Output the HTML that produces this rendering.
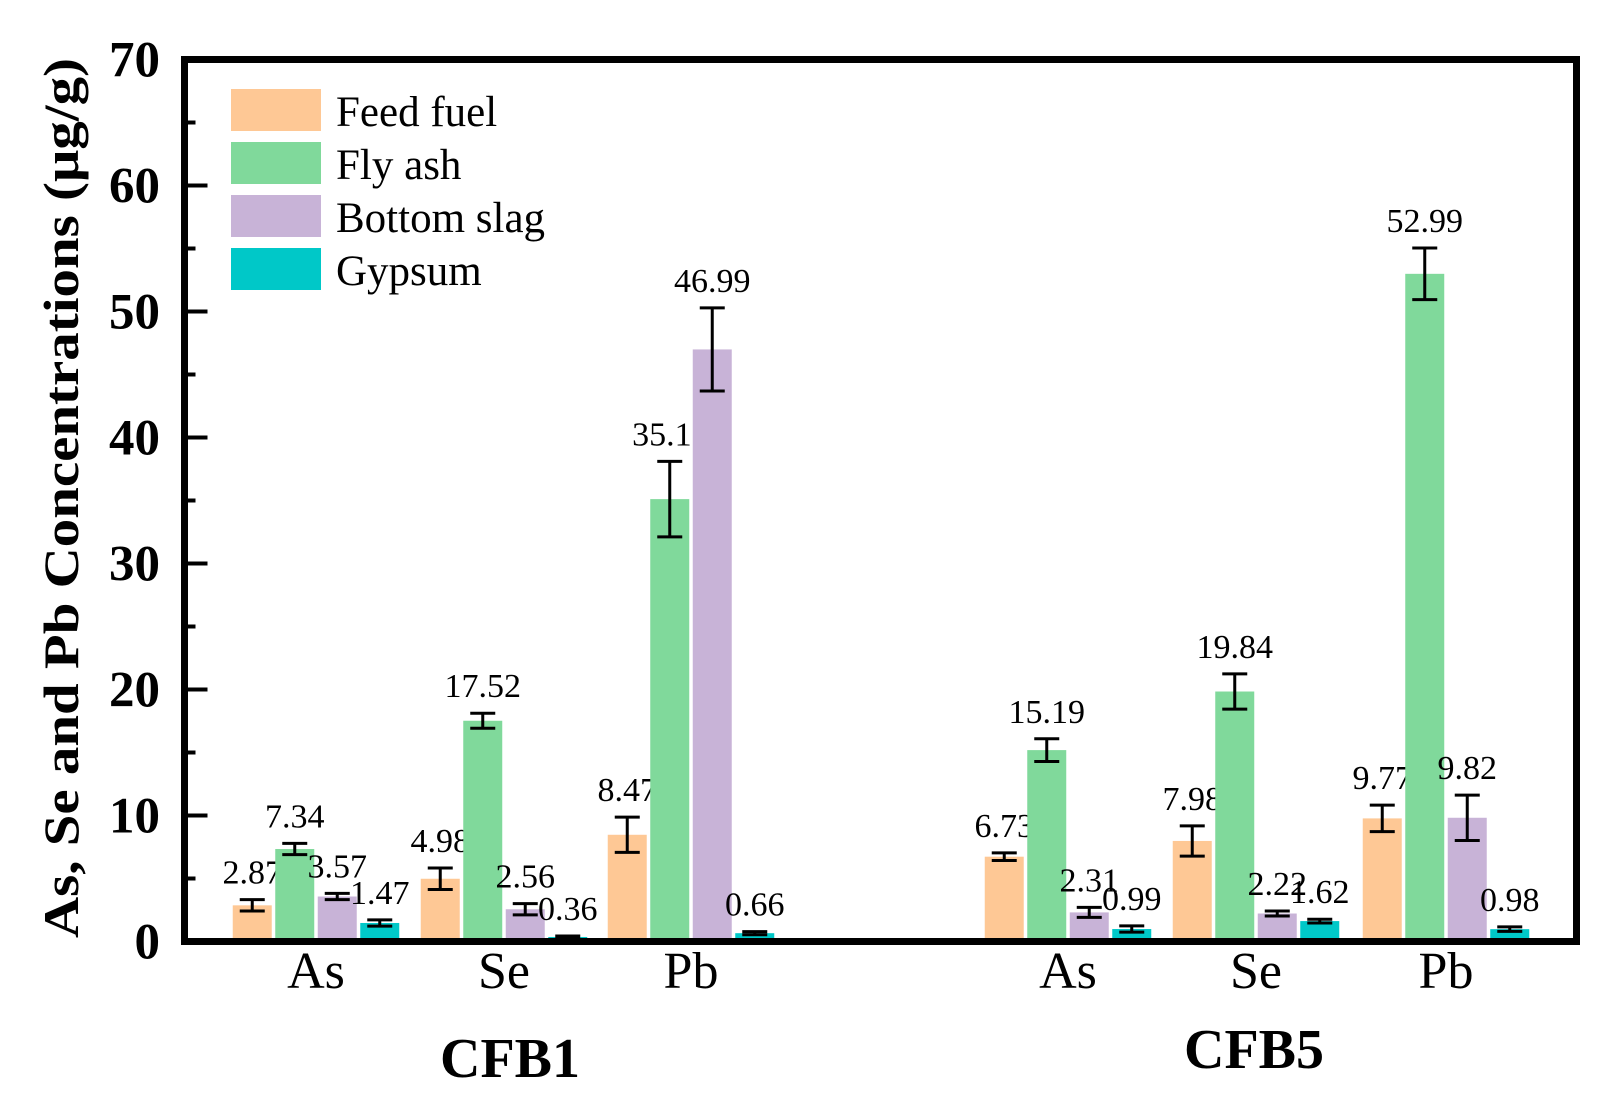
<!DOCTYPE html>
<html><head><meta charset="utf-8">
<style>
html,body{margin:0;padding:0;background:#fff;}
svg{display:block;font-family:"Liberation Serif","DejaVu Serif",serif;}
</style></head>
<body>
<svg id="chart" width="1624" height="1113" viewBox="0 0 1624 1113" xmlns="http://www.w3.org/2000/svg">
<g id="plot"></g>
</svg>
<script>
const groups = ["CFB1","CFB5"];
const elements = ["As","Se","Pb"];
const seriesNames = ["Feed fuel","Fly ash","Bottom slag","Gypsum"];
const colors = ["#fec895","#80d99b","#c8b3d7","#00c8c8"];
const feedFuel = [2.87,4.98,8.47,6.73,7.98,9.77];
const flyAsh = [7.34,17.52,35.11,15.19,19.84,52.99];
const bottomSlag = [3.57,2.56,46.99,2.31,2.22,9.82];
const gypsum = [1.47,0.36,0.66,0.99,1.62,0.98];
const feedErr = [0.45,0.85,1.4,0.3,1.2,1.05];
const flyErr = [0.45,0.6,3.0,0.9,1.4,2.05];
const slagErr = [0.25,0.45,3.3,0.4,0.2,1.8];
const gypErr = [0.25,0.08,0.12,0.25,0.15,0.18];
const yTicks = [0,10,20,30,40,50,60,70];

const NS="http://www.w3.org/2000/svg";
const g=document.getElementById('plot');
const L=184.5,R=1576.5,T=59.5,B=941.5;
const y=v=>B-(v/70)*(B-T);
const catCenters=[316,504,691,1068,1256,1446];
const bw=39;
const x=(ci,si)=>catCenters[ci]-63.75+si*42.5-bw/2;
function mk(tag,attrs,txt){const e=document.createElementNS(NS,tag);for(const k in attrs)e.setAttribute(k,attrs[k]);if(txt!==undefined)e.textContent=txt;g.appendChild(e);return e;}

const vals=[feedFuel,flyAsh,bottomSlag,gypsum];
const errs=[feedErr,flyErr,slagErr,gypErr];
for(let ci=0;ci<6;ci++){
  for(let si=0;si<4;si++){
    const v=vals[si][ci],e=errs[si][ci],x0=x(ci,si),cx=x0+bw/2;
    const r=mk('rect',{x:x0,y:y(v),width:bw,height:B-y(v),fill:colors[si]});
    
    
    const eb=mk('path',{d:`M${cx-12.5},${y(v+e)}H${cx+12.5}M${cx},${y(v+e)}V${y(v-e)}M${cx-12.5},${y(v-e)}H${cx+12.5}`,stroke:'#000','stroke-width':3,fill:'none'});
    
    
    const t=mk('text',{x:cx,y:y(v+e)-16,'text-anchor':'middle','font-size':34},v.toFixed(2));
    
    
  }
  const cl=mk('text',{x:catCenters[ci],y:988,'text-anchor':'middle','font-size':52},elements[ci%3]);
  
  
}
groups.forEach((gn,i)=>{
  const t=mk('text',{x:i?1254:510,y:i?1068:1077,'text-anchor':'middle','font-size':56,'font-weight':'bold'},gn);
  
  
});
yTicks.forEach(v=>{
  const tk=mk('line',{x1:L,x2:L+23,y1:y(v),y2:y(v),stroke:'#000','stroke-width':4});
  
  
  if(v<70){const m=mk('line',{x1:L,x2:L+11,y1:y(v+5),y2:y(v+5),stroke:'#000','stroke-width':4});
  
  }
  const t=mk('text',{x:160,y:y(v)+17,'text-anchor':'end','font-size':51,'font-weight':'bold'},v);
  
  
});
const fr=mk('rect',{x:L,y:T,width:R-L,height:B-T,fill:'none',stroke:'#000','stroke-width':7});


const yt=mk('text',{x:0,y:0,transform:'translate(78,498) rotate(-90)','text-anchor':'middle','font-size':50,'font-weight':'bold',textLength:880,lengthAdjust:'spacingAndGlyphs'},'As, Se and Pb Concentrations (μg/g)');


seriesNames.forEach((n,i)=>{
  const yy=89+i*53;
  const s=mk('rect',{x:231,y:yy,width:90,height:42,fill:colors[i]});
  
  
  const t=mk('text',{x:336,y:yy+37,'font-size':43},n);
  
  
});
</script>
</body></html>
